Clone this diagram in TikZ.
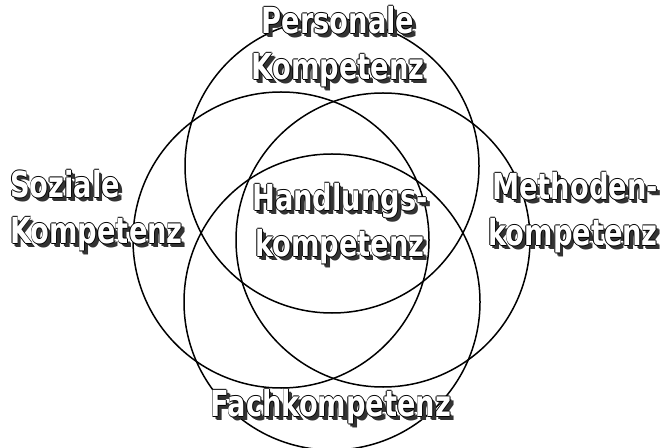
\documentclass[tikz,border=0pt]{standalone}
\usepackage{fontspec}
\usepackage{xcolor}
\usepackage{tikz}
\newfontfamily\lblfont[FakeStretch=0.76]{DejaVu Sans Bold}
\definecolor{shadowgray}{HTML}{333333}
% white letters with black rim and a dark drop shadow
\newcommand{\fxtext}[1]{%
  \rlap{\hspace{2.5pt}\raisebox{-3.5pt}{\textcolor{shadowgray}{#1}}}%
  \rlap{\hspace{3.8pt}\raisebox{-4pt}{\textcolor{shadowgray}{#1}}}%
  \rlap{\hspace{-0.8pt}#1}\rlap{\hspace{0.8pt}#1}%
  \rlap{\raisebox{0.8pt}{#1}}\rlap{\raisebox{-0.8pt}{#1}}%
  \textcolor{white}{#1}}

\begin{document}
\begin{tikzpicture}[x=1bp, y=-1bp,
  ring/.style={draw=black, line width=1.5bp},
  lab/.style={inner sep=0pt, font=\lblfont\fontsize{36}{46}\selectfont}]
  \useasboundingbox (0,0) rectangle (663,448);
  % centres of the four rings
  \coordinate (cPers) at (332,166);
  \coordinate (cFach) at (332,302);
  \coordinate (cSoz)  at (281,240);
  \coordinate (cMeth) at (383,240);
  \draw[ring] (cPers) circle[radius=147bp];
  \draw[ring] (cFach) circle[radius=148bp];
  \draw[ring] (cSoz)  circle[radius=148bp];
  \draw[ring] (cMeth) circle[radius=147bp];
  % labels
  \node[lab, align=center] (pers) at (338,48) {\fxtext{Personale}\\\fxtext{Kompetenz}};
  \node[lab, align=left, anchor=west] (soz) at (10,212) {\fxtext{Soziale}\\\fxtext{Kompetenz}};
  \node[lab, align=right, anchor=east] (meth) at (658,214) {\fxtext{Methoden-}\\\fxtext{kompetenz}};
  \node[lab, align=center] (hand) at (340,225) {\fxtext{Handlungs-}\\\fxtext{kompetenz}};
  \node[lab] (fach) at (331,408) {\fxtext{Fachkompetenz}};
\end{tikzpicture}
\end{document}
